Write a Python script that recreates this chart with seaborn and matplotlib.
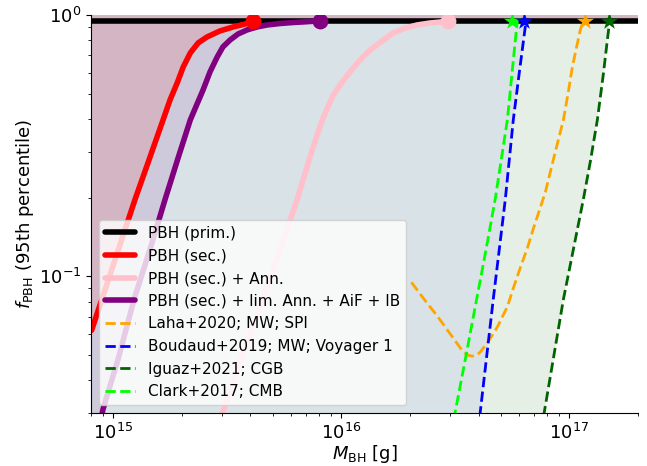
import numpy as np
import matplotlib
matplotlib.use("Agg")
import matplotlib.pyplot as plt
import seaborn as sns

# Axis ranges
XLIM = (8e14, 2e17)
YLIM = (0.03, 1.0)

# PBH limits from this work (95th percentile upper limits on f_PBH)
m_prim = np.array([1e14, 1e18])
f_prim = np.array([0.95, 0.95])

m_sec = np.array([8.05e14, 1.0e15, 1.248e15, 1.439e15, 1.656e15, 1.778e15, 1.91e15,
                  2.03e15, 2.18e15, 2.36e15, 2.58e15, 2.94e15, 3.36e15, 3.87e15, 4.1e15])
f_sec = np.array([0.0622, 0.110, 0.197, 0.280, 0.397, 0.474, 0.550, 0.633, 0.716,
                  0.782, 0.824, 0.869, 0.900, 0.928, 0.95])

m_ann = np.array([2.94e15, 3.03e15, 3.64e15, 4.41e15, 5.35e15, 6.41e15, 7.46e15,
                  8.26e15, 9.23e15, 1.042e16, 1.189e16, 1.34e16, 1.513e16, 1.69e16,
                  1.91e16, 2.15e16, 2.45e16, 2.72e16, 2.94e16])
f_ann = np.array([0.0280, 0.0303, 0.0482, 0.0768, 0.1235, 0.197, 0.305, 0.397, 0.495,
                  0.575, 0.662, 0.735, 0.796, 0.854, 0.892, 0.916, 0.932, 0.940, 0.95])

m_lim = np.array([8.85e14, 9.04e14, 1.052e15, 1.236e15, 1.452e15, 1.69e15, 1.93e15,
                  2.18e15, 2.48e15, 2.66e15, 2.86e15, 3.03e15, 3.26e15, 3.53e15,
                  3.87e15, 4.28e15, 4.74e15, 5.4e15, 6.15e15, 7.0e15, 8.1e15])
f_lim = np.array([0.0285, 0.0311, 0.0482, 0.0817, 0.127, 0.197, 0.285, 0.397, 0.517,
                  0.606, 0.691, 0.755, 0.803, 0.846, 0.877, 0.900, 0.916, 0.928,
                  0.936, 0.942, 0.95])

# Literature limits
m_laha = np.array([2.03e16, 2.31e16, 2.64e16, 3.01e16, 3.43e16, 3.61e16, 3.76e16,
                   3.91e16, 4.07e16, 4.42e16, 4.83e16, 5.35e16, 5.68e16, 6.1e16,
                   6.54e16, 6.95e16, 7.38e16, 7.85e16, 8.6e16, 9.42e16, 9.9e16,
                   1.031e17, 1.074e17, 1.117e17, 1.151e17])
f_laha = np.array([0.0949, 0.0817, 0.0704, 0.0601, 0.0513, 0.0499, 0.0495, 0.0499,
                   0.0513, 0.0565, 0.0639, 0.0765, 0.0900, 0.108, 0.128, 0.152,
                   0.178, 0.210, 0.290, 0.397, 0.508, 0.633, 0.748, 0.877, 0.95])

m_boud = np.array([3.91e16, 4.07e16, 4.64e16, 5.24e16, 5.68e16, 6.04e16, 6.41e16, 6.48e16])
f_boud = np.array([0.0225, 0.0303, 0.0817, 0.197, 0.397, 0.606, 0.900, 0.95])

m_iguaz = np.array([7.31e16, 7.77e16, 9.42e16, 1.152e17, 1.236e17, 1.327e17, 1.41e17,
                    1.468e17, 1.497e17, 1.513e17])
f_iguaz = np.array([0.0226, 0.0303, 0.0817, 0.197, 0.275, 0.397, 0.595, 0.803, 0.924, 0.95])

m_clark = np.array([2.94e16, 3.16e16, 3.5e16, 3.87e16, 4.28e16, 4.73e16, 5.03e16,
                    5.35e16, 5.57e16, 5.74e16, 5.86e16, 5.92e16])
f_clark = np.array([0.0219, 0.0303, 0.0482, 0.0768, 0.122, 0.197, 0.280, 0.397,
                    0.565, 0.735, 0.877, 0.95])

# Masses where each limit reaches f_PBH = 0.95
m_sat_sec, m_sat_ann, m_sat_lim = 4.1e15, 2.94e16, 8.1e15
m_sat_laha, m_sat_boud, m_sat_iguaz, m_sat_clark = 1.175e17, 6.35e16, 1.50e17, 5.62e16
f_sat = 0.95

sns.set_theme(style="ticks", rc={
    "axes.edgecolor": "black", "axes.linewidth": 0.8,
    "xtick.color": "black", "ytick.color": "black",
    "xtick.major.size": 3.5, "ytick.major.size": 3.5,
    "xtick.minor.size": 2.0, "ytick.minor.size": 2.0,
    "xtick.major.width": 0.8, "ytick.major.width": 0.8,
    "xtick.minor.width": 0.6, "ytick.minor.width": 0.6,
    "text.color": "black", "axes.labelcolor": "black",
})
plt.rcParams["font.family"] = ["DejaVu Sans"]

fig, ax = plt.subplots(figsize=(6.47, 4.66), dpi=100)
fig.subplots_adjust(left=91 / 647, right=638 / 647, bottom=1 - 413 / 466, top=1 - 15 / 466)
ax.set_xscale("log")
ax.set_yscale("log")


def shade_excluded(m, f, color, alpha):
    """Shade the excluded region above a limit curve, across the full mass range."""
    mm = np.concatenate([[XLIM[0]], m, [XLIM[1]]])
    ff = np.concatenate([[YLIM[0] * 0.1], f, [f[-1]]])
    ax.fill_between(mm, ff, YLIM[1], color=color, alpha=alpha, lw=0, zorder=0.5)


shade_excluded(m_iguaz, f_iguaz, "darkgreen", 0.10)
shade_excluded(m_boud, f_boud, "blue", 0.05)
shade_excluded(m_lim, f_lim, "purple", 0.10)
shade_excluded(m_sec, f_sec, "red", 0.10)

solid = [
    (m_prim, f_prim, "black", "PBH (prim.)"),
    (m_sec, f_sec, "red", "PBH (sec.)"),
    (m_ann, f_ann, "pink", "PBH (sec.) + Ann."),
    (m_lim, f_lim, "purple", "PBH (sec.) + lim. Ann. + AiF + IB"),
]
for m, f, c, lab in solid:
    sns.lineplot(x=m, y=f, ax=ax, color=c, lw=4, label=lab, zorder=2)

dashed = [
    (m_laha, f_laha, "orange", "Laha+2020; MW; SPI"),
    (m_boud, f_boud, "blue", "Boudaud+2019; MW; Voyager 1"),
    (m_iguaz, f_iguaz, "darkgreen", "Iguaz+2021; CGB"),
    (m_clark, f_clark, "lime", "Clark+2017; CMB"),
]
for m, f, c, lab in dashed:
    sns.lineplot(x=m, y=f, ax=ax, color=c, lw=2, linestyle="--", label=lab, zorder=2)

for m, c in [(m_sat_sec, "red"), (m_sat_lim, "purple"), (m_sat_ann, "pink")]:
    sns.scatterplot(x=[m], y=[f_sat], ax=ax, color=c, marker="o", s=130,
                    linewidth=0, zorder=4, legend=False)
for m, c in [(m_sat_clark, "lime"), (m_sat_boud, "blue"),
             (m_sat_laha, "orange"), (m_sat_iguaz, "darkgreen")]:
    sns.scatterplot(x=[m], y=[f_sat], ax=ax, color=c, marker="*", s=170,
                    linewidth=0, zorder=4, legend=False)

ax.set_xlim(*XLIM)
ax.set_ylim(*YLIM)
ax.set_xlabel(r"$M_{\rm BH}$ [g]", fontsize=13, labelpad=0)
ax.set_ylabel(r"$f_{\rm PBH}$ (95th percentile)", fontsize=13, labelpad=2)
ax.tick_params(axis="both", which="both", labelsize=13)
ax.legend(loc="lower left", fontsize=11)
sns.despine(ax=ax)

fig.savefig("out.png", dpi=100)
